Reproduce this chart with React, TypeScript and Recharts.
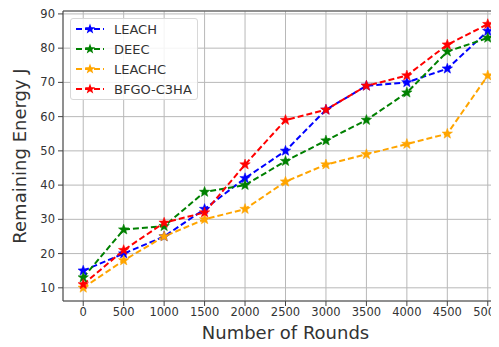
import React from 'react';
import { LineChart, Line, XAxis, YAxis, CartesianGrid, ReferenceLine } from 'recharts';

const rounds = [0, 500, 1000, 1500, 2000, 2500, 3000, 3500, 4000, 4500, 5000];
const leach = [15, 20, 25, 33, 42, 50, 62, 69, 70, 74, 85];
const deec = [13, 27, 28, 38, 40, 47, 53, 59, 67, 79, 83];
const leachc = [10, 18, 25, 30, 33, 41, 46, 49, 52, 55, 72];
const bfgo = [11, 21, 29, 32, 46, 59, 62, 69, 72, 81, 87];
const xTicks = [0, 500, 1000, 1500, 2000, 2500, 3000, 3500, 4000, 4500, 5000];
const yTicks = [10, 20, 30, 40, 50, 60, 70, 80, 90];

const series = [
  { key: 'leach', name: 'LEACH', color: '#0000ff', values: leach },
  { key: 'deec', name: 'DEEC', color: '#008000', values: deec },
  { key: 'leachc', name: 'LEACHC', color: '#ffa500', values: leachc },
  { key: 'bfgo', name: 'BFGO-C3HA', color: '#ff0000', values: bfgo },
];

const data = rounds.map((r, i) => {
  const row: any = { r };
  series.forEach((s) => (row[s.key] = s.values[i]));
  return row;
});

const Y_MIN = 6.15;
const Y_MAX = 90.85;

function starPath(cx: number, cy: number, ro: number, ri: number) {
  let d = '';
  for (let i = 0; i < 10; i++) {
    const r = i % 2 === 0 ? ro : ri;
    const a = -Math.PI / 2 + (i * Math.PI) / 5;
    d += (i === 0 ? 'M' : 'L') + (cx + r * Math.cos(a)).toFixed(2) + ',' + (cy + r * Math.sin(a)).toFixed(2);
  }
  return d + 'Z';
}

const makeDot = (color: string) => (props: any) => {
  const { cx, cy, index } = props;
  if (cx == null || cy == null) return <g key={index} />;
  return <path key={index} d={starPath(cx, cy, 5.5, 2.3)} fill={color} stroke={color} strokeWidth={0.5} />;
};

const LegendBox = () => (
  <div
    style={{
      position: 'absolute',
      left: 70,
      top: 18,
      background: 'rgba(255,255,255,0.85)',
      border: '1px solid #d8d8d8',
      borderRadius: 3,
      padding: '0px 5px 0px 4px',
      fontFamily: 'DejaVu Sans, sans-serif',
      fontSize: 13,
      color: '#333',
    }}
  >
    {series.map((s) => (
      <div key={s.key} style={{ display: 'flex', alignItems: 'center', height: 20 }}>
        <svg width={34} height={14} style={{ marginRight: 5 }}>
          <line x1={1} y1={7} x2={29} y2={7} stroke={s.color} strokeWidth={2} strokeDasharray="6 3" />
          <path d={starPath(15, 7, 5.5, 2.3)} fill={s.color} />
        </svg>
        <span>{s.name}</span>
      </div>
    ))}
  </div>
);

export default function App() {
  return (
    <div style={{ margin: -8, width: 499, height: 347, overflow: 'hidden', background: '#fff', position: 'relative' }}>
      <LineChart width={520} height={347} data={data} margin={{ top: 11, right: 12, left: 0, bottom: 0 }}>
        <CartesianGrid stroke="#b8b8b8" strokeWidth={1} />
        <XAxis
          dataKey="r"
          type="number"
          domain={[-250, 5250]}
          ticks={xTicks}
          allowDataOverflow
          height={46}
          tickSize={5}
          tickMargin={2}
          stroke="#444"
          tick={{ fill: '#333', fontSize: 11.5, fontFamily: 'DejaVu Sans, sans-serif' }}
          label={{
            value: 'Number of Rounds',
            position: 'insideBottom',
            offset: 8,
            style: { fill: '#333', fontSize: 18, fontFamily: 'DejaVu Sans, sans-serif' },
          }}
        />
        <YAxis
          type="number"
          domain={[Y_MIN, Y_MAX]}
          ticks={yTicks}
          allowDataOverflow
          width={63}
          tickSize={5}
          tickMargin={3}
          stroke="#444"
          tick={{ fill: '#333', fontSize: 11.5, fontFamily: 'DejaVu Sans, sans-serif' }}
          label={{
            value: 'Remaining Energy J',
            angle: -90,
            position: 'insideLeft',
            offset: 20,
            style: { textAnchor: 'middle', fill: '#333', fontSize: 18, fontFamily: 'DejaVu Sans, sans-serif' },
          }}
        />
        <ReferenceLine y={Y_MAX} stroke="#444" strokeWidth={1} />
        {series.map((s) => (
          <Line
            key={s.key}
            dataKey={s.key}
            name={s.name}
            stroke={s.color}
            strokeWidth={2}
            strokeDasharray="6 3"
            dot={makeDot(s.color)}
            activeDot={false}
            isAnimationActive={false}
          />
        ))}
      </LineChart>
      <LegendBox />
    </div>
  );
}
